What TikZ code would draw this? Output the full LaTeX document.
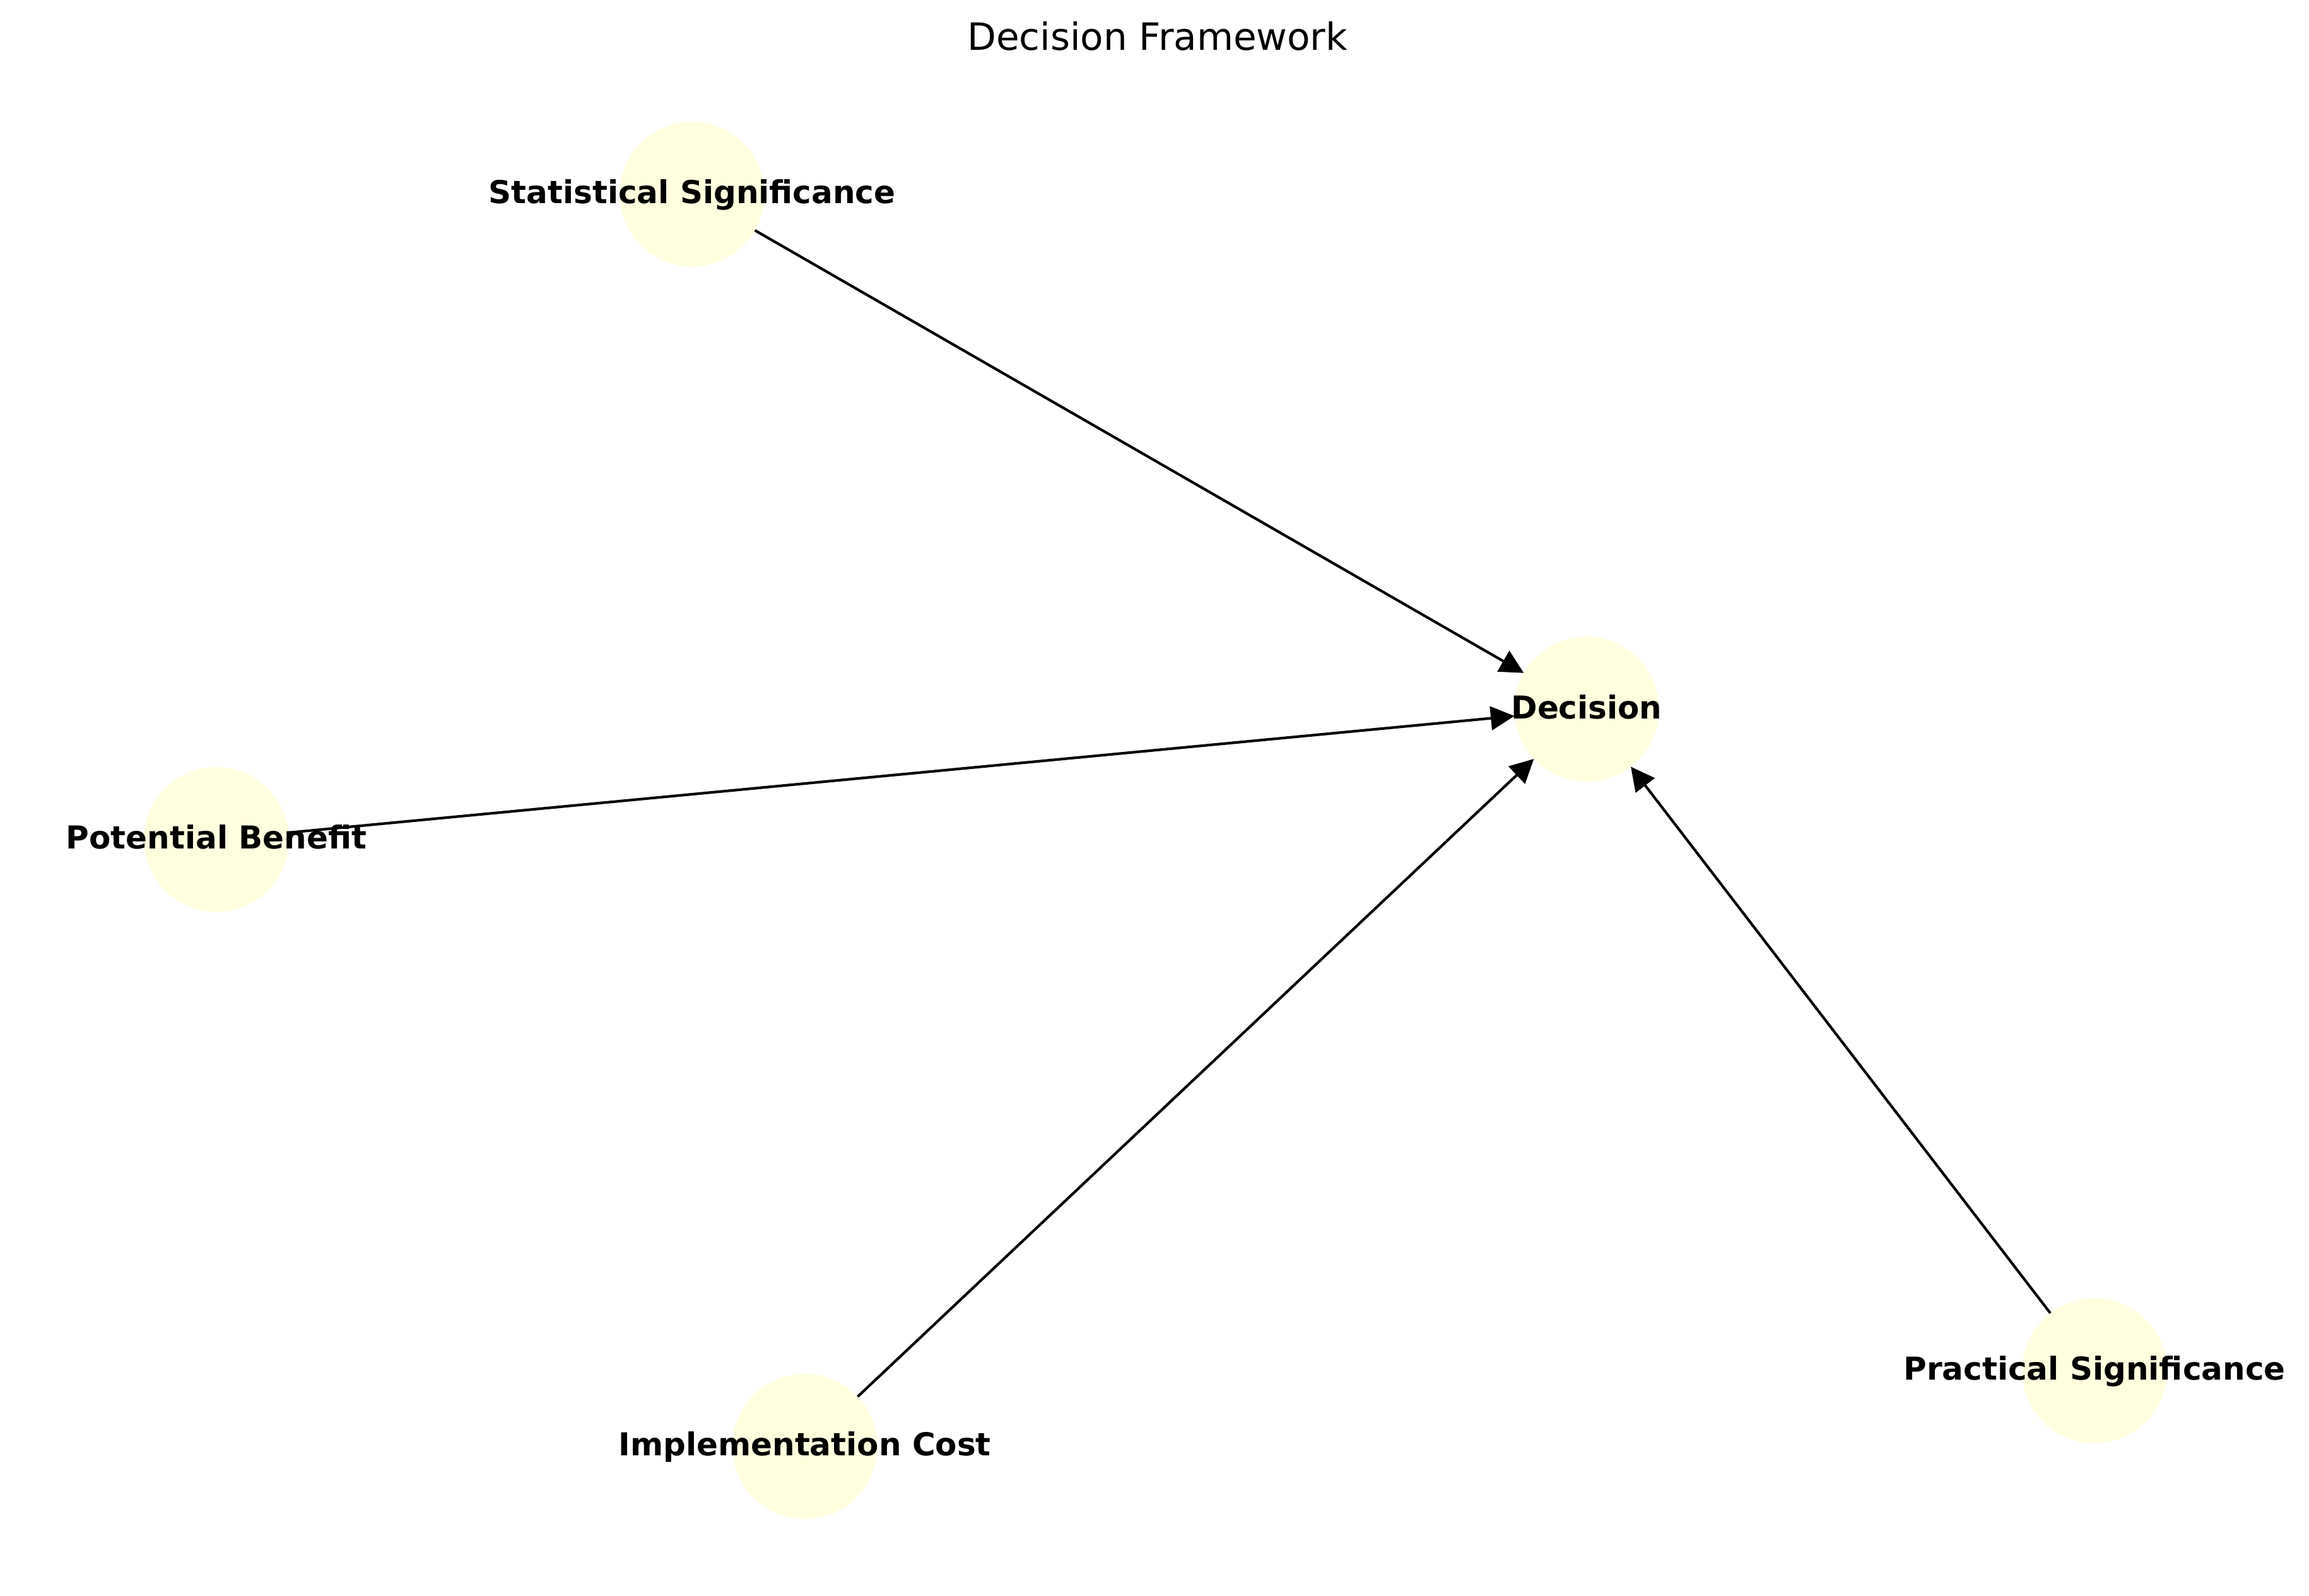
\documentclass[tikz,border=0pt]{standalone}
\usepackage{fontspec}
\setmainfont{DejaVu Sans}
\usetikzlibrary{arrows.meta}
\definecolor{nodefill}{HTML}{FFFFE0}
\tikzset{
  vnode/.style={circle, fill=nodefill, draw=none, minimum size=55.2pt, inner sep=0pt, outer sep=0pt},
  vlabel/.style={anchor=base, inner sep=0pt, font=\fontsize{12pt}{14pt}\selectfont\bfseries},
  edge/.style={draw=black, line width=1pt, -{Triangle[length=9pt,width=9pt]}},
  titletext/.style={anchor=base, inner sep=0pt, font=\fontsize{14.3pt}{17pt}\selectfont}
}
\begin{document}
\begin{tikzpicture}[x=1pt,y=1pt]
\useasboundingbox (0,0) rectangle (878.4,607.2);
% nodes
\node[vnode] (stat) at (263.3,533.3) {};
\node[vnode] (dec) at (603.6,337.4) {};
\node[vnode] (pot) at (82.3,287.8) {};
\node[vnode] (impl) at (306.2,56.9) {};
\node[vnode] (prac) at (796.8,85.7) {};
% edges
\draw[edge] (stat) -- (dec);
\draw[edge] (pot) -- (dec);
\draw[edge] (impl) -- (dec);
\draw[edge] (prac) -- (dec);
% labels
\node[vlabel] (statl) at ([yshift=-3.6pt]stat.center) {Statistical Significance};
\node[vlabel] (decl) at ([yshift=-3.6pt]dec.center) {Decision};
\node[vlabel] (potl) at ([yshift=-3.6pt]pot.center) {Potential Benefit};
\node[vlabel] (impll) at ([yshift=-3.6pt]impl.center) {Implementation Cost};
\node[vlabel] (pracl) at ([yshift=-3.6pt]prac.center) {Practical Significance};
% title
\node[titletext] (title) at (440.3,588.2) {Decision Framework};
\end{tikzpicture}
\end{document}
